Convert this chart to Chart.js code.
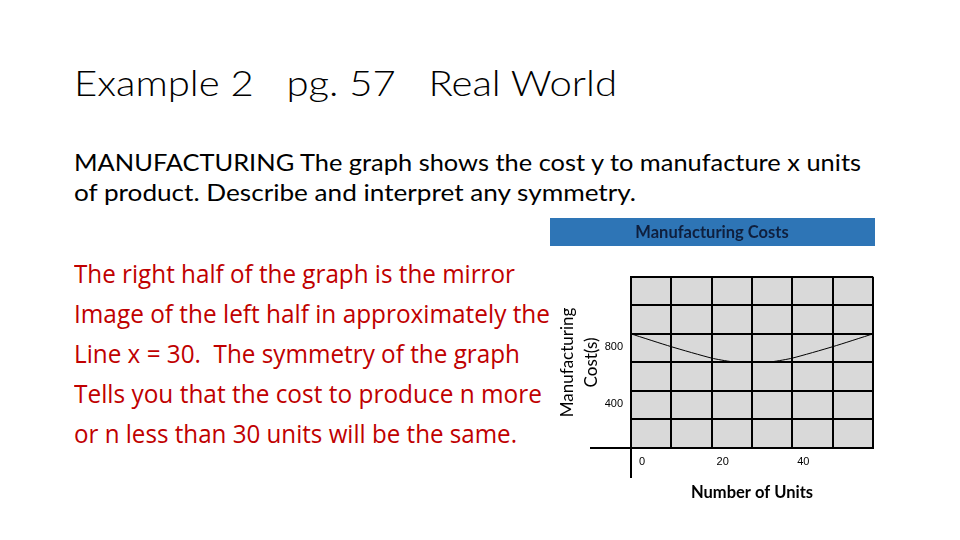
<!DOCTYPE html>
<html>
<head>
<meta charset="utf-8">
<script src="https://cdn.jsdelivr.net/npm/chart.js@4"></script>
<style>
  html, body { margin: 0; padding: 0; background: #fff; }
  body { width: 960px; height: 540px; position: relative; overflow: hidden; }
  .txt { position: absolute; left: 74px; white-space: pre; line-height: 1; transform-origin: left top; }
  .head { font-family: Lato, sans-serif; font-weight: 300; font-size: 36px; color: #000; }
  .para { font-family: Lato, sans-serif; font-size: 24px; color: #000; }
  .red { font-family: "Open Sans", sans-serif; font-size: 26px; color: #c00000; }
  #box { position: absolute; left: 550px; top: 215px; width: 330px; height: 290px; }
</style>
</head>
<body>
<div class="txt head" style="top:64px" data-w="543">Example 2   pg. 57   Real World</div>
<div class="txt para" style="top:150px" data-w="787">MANUFACTURING The graph shows the cost y to manufacture x units</div>
<div class="txt para" style="top:180px" data-w="562">of product. Describe and interpret any symmetry.</div>
<div class="txt red" style="top:260px" data-w="441">The right half of the graph is the mirror</div>
<div class="txt red" style="top:300px" data-w="476">Image of the left half in approximately the</div>
<div class="txt red" style="top:340px" data-w="446">Line x = 30.  The symmetry of the graph</div>
<div class="txt red" style="top:380px" data-w="468">Tells you that the cost to produce n more</div>
<div class="txt red" style="top:420px" data-w="443">or n less than 30 units will be the same.</div>
<div id="box"><canvas id="costChart"></canvas></div>
<script>
const units = [0, 10, 20, 25, 30, 35, 40, 50, 60];
const cost = [800, 710, 630, 605, 600, 605, 630, 710, 800];
const xTickLabels = [0, 20, 40];
const yTickLabels = [400, 800];

// squeeze each text line to the width it has on the slide
document.querySelectorAll('.txt').forEach(el => {
  const w = el.getBoundingClientRect().width;
  el.style.transform = 'scaleX(' + (el.dataset.w / w) + ')';
});

const chartBits = {
  id: 'chartBits',
  beforeDraw(chart) {
    const ctx = chart.ctx;
    const t = chart.titleBlock;
    const a = chart.chartArea;
    ctx.save();
    ctx.fillStyle = '#2e75b6';
    ctx.fillRect(t.left - 81, t.top, t.right - t.left + 82, 28);
    ctx.fillStyle = '#d9d9d9';
    ctx.fillRect(a.left, a.top, a.right - a.left, a.bottom - a.top);
    ctx.restore();
  },
  afterDraw(chart) {
    const ctx = chart.ctx;
    const a = chart.chartArea;
    ctx.save();
    ctx.strokeStyle = '#000';
    ctx.lineWidth = 2;
    ctx.beginPath();
    ctx.moveTo(a.left - 41, a.bottom);
    ctx.lineTo(a.right, a.bottom);
    ctx.moveTo(a.left, a.top);
    ctx.lineTo(a.left, a.bottom + 30);
    ctx.stroke();
    ctx.restore();
  }
};

const costChart = new Chart(document.getElementById('costChart'), {
  type: 'line',
  data: {
    datasets: [{
      label: 'Manufacturing Costs',
      data: units.map((u, i) => ({x: u, y: cost[i]})),
      borderColor: '#000',
      borderWidth: 1,
      pointRadius: 0,
      tension: 0.2,
      fill: false
    }]
  },
  options: {
    responsive: true,
    maintainAspectRatio: false,
    animation: false,
    layout: { padding: { top: 3, right: 6, left: 0, bottom: 0 } },
    plugins: {
      legend: { display: false },
      tooltip: { enabled: false },
      title: {
        display: true,
        text: 'Manufacturing Costs',
        color: '#0f1f3d',
        font: { family: 'Lato', size: 16.5, weight: 'bold', lineHeight: 1.2 },
        padding: { top: 5, bottom: 34 }
      }
    },
    scales: {
      x: {
        type: 'linear',
        min: 0,
        max: 60,
        afterFit: s => { s.height = 57; },
        grid: { color: '#000', lineWidth: 2, drawTicks: false },
        border: { display: true, color: '#000', width: 2 },
        ticks: {
          stepSize: 10,
          padding: 7,
          labelOffset: 11,
          maxRotation: 0,
          autoSkip: false,
          color: '#000',
          font: { family: 'Liberation Sans', size: 11 },
          callback: v => xTickLabels.includes(v) ? String(v) : ''
        },
        title: {
          display: true,
          text: 'Number of Units',
          color: '#000',
          font: { family: 'Lato', size: 16.5, weight: 'bold', lineHeight: 1.2 },
          padding: { top: 0, bottom: 2 }
        }
      },
      y: {
        min: 0,
        max: 1200,
        afterFit: s => { s.width = 81; },
        grid: { color: '#000', lineWidth: 2, drawTicks: false },
        border: { display: true, color: '#000', width: 2 },
        ticks: {
          stepSize: 200,
          padding: 8,
          labelOffset: 13,
          autoSkip: false,
          color: '#000',
          font: { family: 'Liberation Sans', size: 11 },
          callback: v => yTickLabels.includes(v) ? String(v) : ''
        },
        title: {
          display: true,
          text: ['Manufacturing', 'Cost(s)'],
          color: '#000',
          font: { family: 'Lato', size: 17, lineHeight: 1.4 },
          padding: { top: 6, bottom: 0 }
        }
      }
    }
  },
  plugins: [chartBits]
});
</script>
</body>
</html>
